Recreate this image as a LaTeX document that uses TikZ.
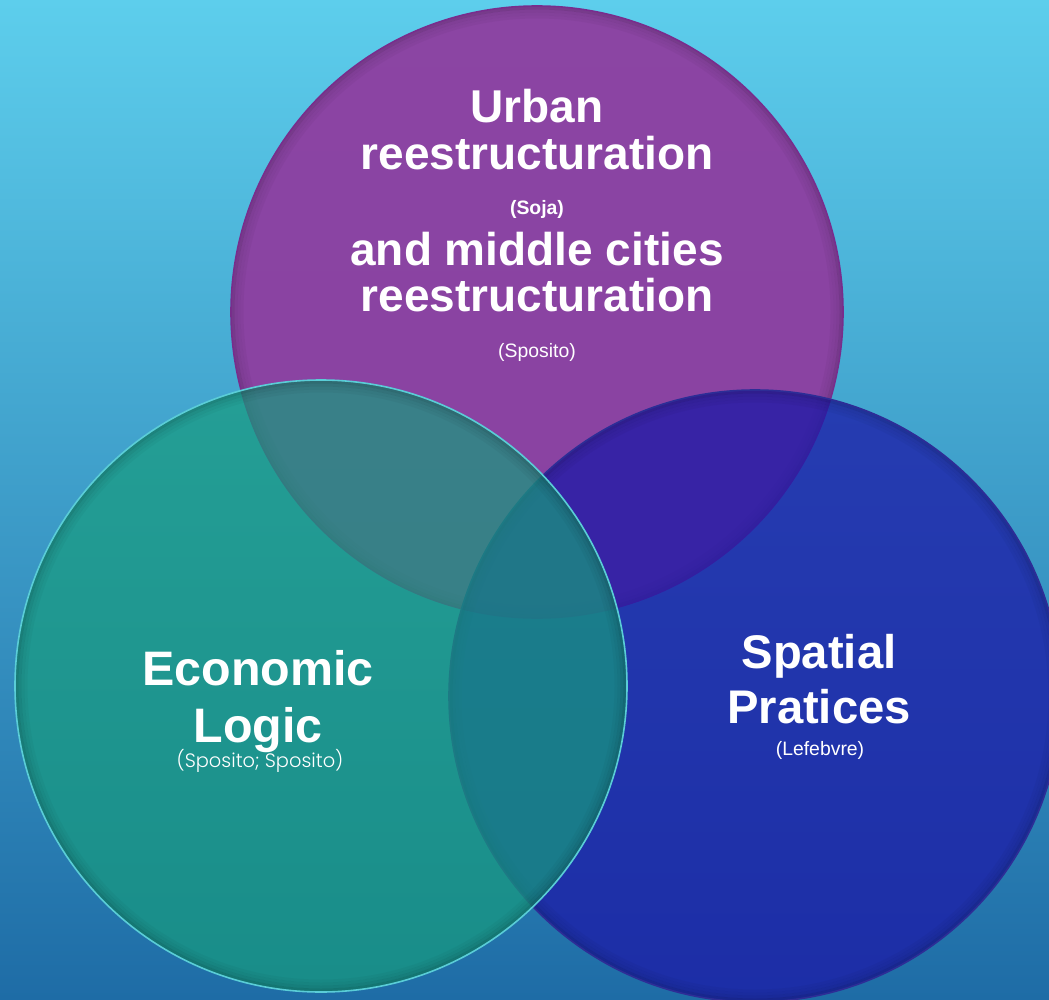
\documentclass[tikz,border=0pt]{standalone}
\usepackage{fontspec}
\setmainfont{Liberation Sans}
\newfontfamily\gothicfont{Poppins Light}

\definecolor{skytop}{RGB}{93,206,236}
\definecolor{skybottom}{RGB}{30,108,166}
\definecolor{urbanpurple}{RGB}{142,62,160}
\definecolor{urbanrim}{RGB}{120,45,140}
\definecolor{spatialblue}{RGB}{28,25,167}
\definecolor{spatialrim}{RGB}{45,45,150}
\definecolor{econteal}{RGB}{23,155,125}
\definecolor{econrim}{RGB}{90,205,215}

\tikzset{
	title/.style={text=white, anchor=base, inner sep=0pt, font=\fontsize{23}{23}\selectfont\bfseries},
	cite/.style={text=white, anchor=base, inner sep=0pt, font=\fontsize{9.7}{10}\selectfont},
	rim/.style={line width=0.8pt},
}

\begin{document}
\begin{tikzpicture}[x=0.5pt,y=-0.5pt]
		\useasboundingbox (0,0) rectangle (1049,1000);
		\shade[top color=skytop, bottom color=skybottom] (0,0) rectangle (1049,1000);
		
		\coordinate (urban) at (537,312);
		\coordinate (spatial) at (755,696);
		\coordinate (economic) at (321,686);
		
		% purple disc first, then blue, teal on top
		\fill[urbanpurple, opacity=0.95] (urban) circle (306);
		\foreach \d/\o in {2/0.14, 5/0.08, 8/0.05, 11/0.03}
			\draw[black, opacity=\o, line width=1.5pt] (urban) circle (306-\d);
		\draw[rim, urbanrim] (urban) circle (306);
		
		\fill[spatialblue, opacity=0.75] (spatial) circle (306);
		\foreach \d/\o in {2/0.14, 5/0.08, 8/0.05, 11/0.03}
			\draw[black, opacity=\o, line width=1.5pt] (spatial) circle (306-\d);
		\draw[rim, spatialrim] (spatial) circle (306);
		
		\fill[econteal, opacity=0.7] (economic) circle (306);
		\foreach \d/\o in {2/0.16, 5/0.1, 8/0.06, 11/0.03}
			\draw[black, opacity=\o, line width=1.5pt] (economic) circle (306-\d);
		\draw[rim, econrim] (economic) circle (306);
		
		% labels
		\node[title] (urbanA) at (537,123) {Urban};
		\node[title] (urbanB) at (537,170) {reestructuration};
		\node[cite, font=\fontsize{9.7}{10}\selectfont\bfseries] (soja) at (537,215) {(Soja)};
		\node[title] (middleA) at (537,265) {and middle cities};
		\node[title] (middleB) at (537,312) {reestructuration};
		\node[cite] (spositoA) at (537,357) {(Sposito)};
		
		\node[title, font=\fontsize{24.2}{24}\selectfont\bfseries] (econA) at (258,685) {Economic};
		\node[title, font=\fontsize{24.2}{24}\selectfont\bfseries] (econB) at (258,742) {Logic};
		\node[cite, font=\fontsize{9.7}{10}\gothicfont] (spositoB) at (260,767) {(Sposito; Sposito)};
		
		\node[title, font=\fontsize{23.6}{24}\selectfont\bfseries] (spatialA) at (819,668) {Spatial};
		\node[title, font=\fontsize{23.6}{24}\selectfont\bfseries] (spatialB) at (819,723) {Pratices};
		\node[cite] (lefebvre) at (820,755) {(Lefebvre)};
		
	\end{tikzpicture}
\end{document}
